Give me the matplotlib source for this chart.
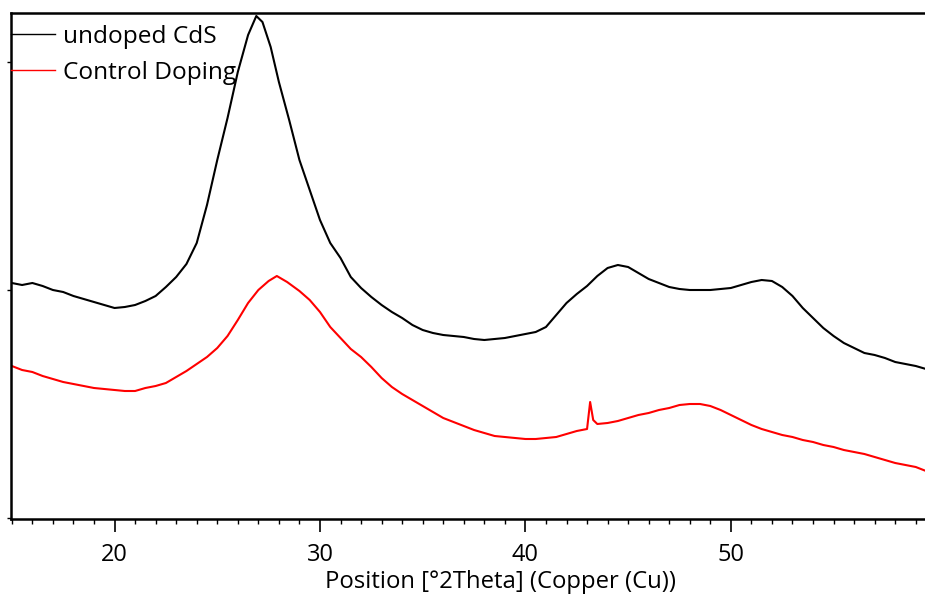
import matplotlib.pyplot as plt
from matplotlib.ticker import MultipleLocator

# XRD patterns (arbitrary intensity units)
theta_cds = [15.0, 15.5, 16.0, 16.5, 17.0, 17.5, 18.0, 18.5, 19.0, 19.5, 20.0, 20.5,
             21.0, 21.5, 22.0, 22.5, 23.0, 23.5, 24.0, 24.5, 25.0, 25.5, 26.0, 26.5,
             26.9, 27.2, 27.6,
             28.0, 28.5, 29.0, 29.5, 30.0, 30.5, 31.0, 31.5, 32.0, 32.5, 33.0, 33.5,
             34.0, 34.5, 35.0, 35.5, 36.0, 36.5, 37.0, 37.5, 38.0, 38.5, 39.0, 39.5,
             40.0, 40.5, 41.0, 41.5, 42.0, 42.5, 43.0, 43.5, 44.0, 44.5, 45.0, 45.5,
             46.0, 46.5, 47.0, 47.5, 48.0, 48.5, 49.0, 49.5, 50.0, 50.5, 51.0, 51.5,
             52.0, 52.5, 53.0, 53.5, 54.0, 54.5, 55.0, 55.5, 56.0, 56.5, 57.0, 57.5,
             58.0, 58.5, 59.0, 59.5]
counts_cds = [235, 233, 235, 232, 228, 226, 222, 219, 216, 213, 210, 211,
              213, 217, 222, 231, 241, 254, 275, 313, 358, 400, 446, 483,
              502, 496, 471,
              436, 398, 358, 328, 298, 275, 260, 241, 230, 221, 213, 206,
              200, 193, 188, 185, 183, 182, 181, 179, 178, 179, 180, 182,
              184, 186, 191, 203, 215, 224, 232, 242, 250, 253, 251, 245,
              239, 235, 231, 229, 228, 228, 228, 229, 230, 233, 236, 238,
              237, 231, 222, 210, 200, 190, 182, 175, 170, 165, 163, 160,
              156, 154, 152, 149]

theta_ctrl = [15.0, 15.5, 16.0, 16.5, 17.0, 17.5, 18.0, 18.5, 19.0, 19.5, 20.0, 20.5,
              21.0, 21.5, 22.0, 22.5, 23.0, 23.5, 24.0, 24.5, 25.0, 25.5, 26.0, 26.5,
              27.0, 27.5, 27.9, 28.4,
              29.0, 29.5, 30.0, 30.5, 31.0, 31.5, 32.0, 32.5, 33.0, 33.5, 34.0, 34.5,
              35.0, 35.5, 36.0, 36.5, 37.0, 37.5, 38.0, 38.5, 39.0, 39.5, 40.0, 40.5,
              41.0, 41.5, 42.0, 42.5, 43.0, 43.15, 43.3,
              43.5, 44.0, 44.5, 45.0, 45.5, 46.0, 46.5, 47.0, 47.5, 48.0, 48.5, 49.0,
              49.5, 50.0, 50.5, 51.0, 51.5, 52.0, 52.5, 53.0, 53.5, 54.0, 54.5, 55.0,
              55.5, 56.0, 56.5, 57.0, 57.5, 58.0, 58.5, 59.0, 59.5]
counts_ctrl = [152, 148, 146, 142, 139, 136, 134, 132, 130, 129, 128, 127,
               127, 130, 132, 135, 141, 147, 154, 161, 170, 182, 198, 215,
               228, 237, 242, 236,
               227, 218, 206, 191, 180, 169, 161, 151, 140, 131, 124, 118,
               112, 106, 100, 96, 92, 88, 85, 82, 81, 80, 79, 79,
               80, 81, 84, 87, 89, 116, 98,
               94, 95, 97, 100, 103, 105, 108, 110, 113, 114, 114, 112,
               108, 103, 98, 93, 89, 86, 83, 81, 78, 76, 73, 71,
               68, 66, 64, 61, 58, 55, 53, 51, 47]

labels = ['undoped CdS', 'Control Doping']
colors = ['black', 'red']

plt.rcParams['font.family'] = ['Open Sans', 'DejaVu Sans']
fs = 17

fig = plt.figure(figsize=(9.25, 5.96), dpi=100)
ax = fig.add_axes([11 / 925, 77 / 596, 1 - 11 / 925, 506 / 596])

ax.plot(theta_cds, counts_cds, color=colors[0], lw=1.5, label=labels[0])
ax.plot(theta_ctrl, counts_ctrl, color=colors[1], lw=1.5, label=labels[1])

ax.set_xlim(14.96, 59.45)
ax.set_ylim(-1, 505)

ax.xaxis.set_major_locator(MultipleLocator(10))
ax.xaxis.set_minor_locator(MultipleLocator(1))
ax.tick_params(axis='x', which='major', length=9.5, width=1.2, labelsize=fs, pad=8)
ax.tick_params(axis='x', which='minor', length=3.5, width=1.0)
ax.set_yticks([0, 228, 456])
ax.tick_params(axis='y', which='major', length=3, width=1.0, labelleft=False)

for side in ['left', 'top', 'bottom']:
    ax.spines[side].set_linewidth(1.8)
ax.spines['right'].set_visible(False)

ax.set_xlabel('Position [°2Theta] (Copper (Cu))', fontsize=17.2, labelpad=0)
ax.xaxis.set_label_coords(0.536, -0.1)

leg = ax.legend(loc='upper left', bbox_to_anchor=(0, 0.977), frameon=False,
                fontsize=17.6, handlelength=1.8, handletextpad=0.33,
                borderaxespad=0.0, borderpad=0.0, labelspacing=0.5)
for line in leg.get_lines():
    line.set_linewidth(1.0)

fig.savefig('out.png', dpi=100)
